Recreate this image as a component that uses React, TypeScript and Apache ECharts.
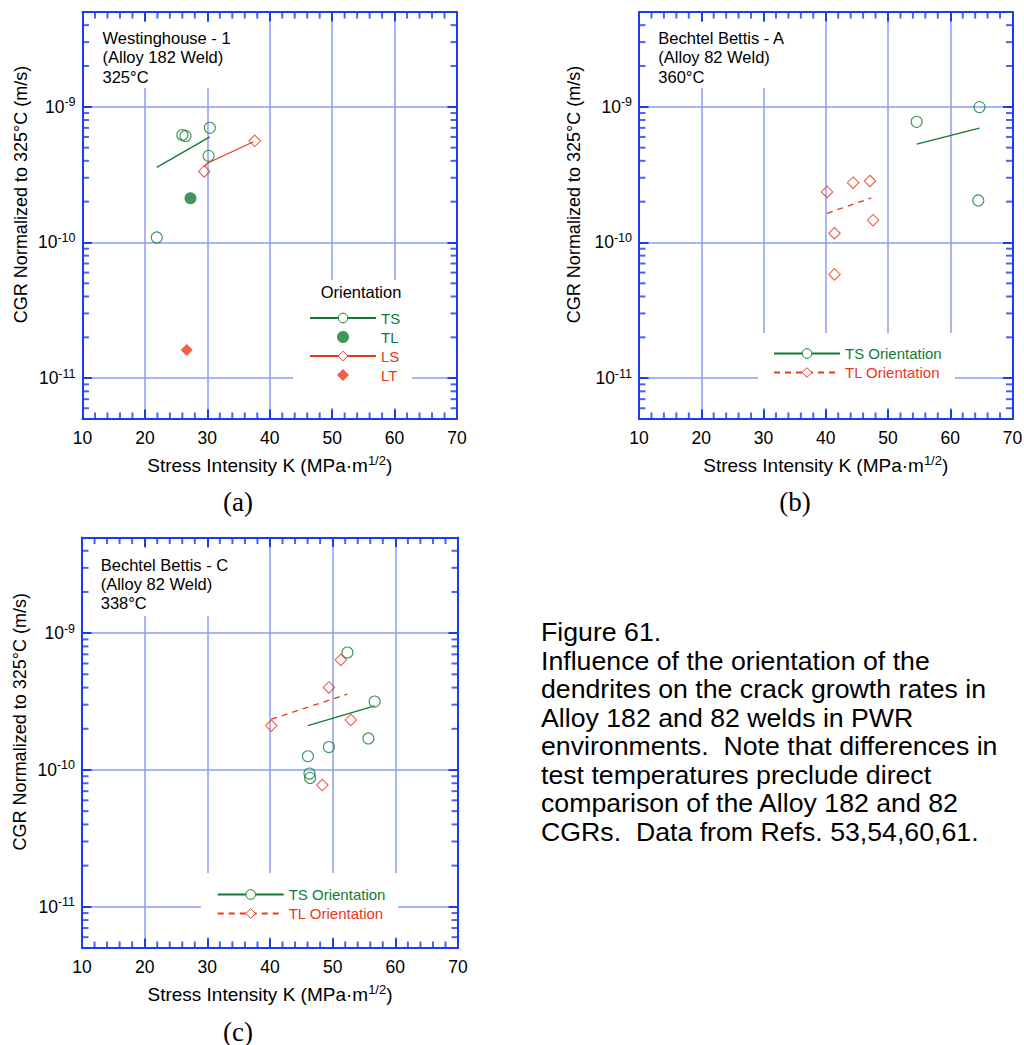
import React, { useEffect, useRef } from 'react';
import * as echarts from 'echarts';

// ---------------- data ----------------
const kMin = 10;
const kMax = 70;
const kInterval = 10;
const kMinorStep = 2;
const cgrMin = 5e-12;
const cgrMax = 5e-9;
const minorMantissas = [2, 3, 4, 5, 6, 7, 8, 9];
const decadeBases = [1e-12, 1e-11, 1e-10, 1e-9];

// (a) Westinghouse - 1, Alloy 182 weld, 325°C
const aTS_K = [26.0, 26.5, 30.4, 30.2, 21.9];
const aTS_CGR = [6.2e-10, 6.1e-10, 7.0e-10, 4.35e-10, 1.09e-10];
const aTSFit_K = [21.9, 30.4];
const aTSFit_CGR = [3.58e-10, 6.0e-10];
const aTL_K = [27.3];
const aTL_CGR = [2.12e-10];
const aLS_K = [29.5, 37.6];
const aLS_CGR = [3.34e-10, 5.62e-10];
const aLSFit_K = [29.5, 30.0, 37.4];
const aLSFit_CGR = [3.62e-10, 3.84e-10, 5.53e-10];
const aLT_K = [26.7];
const aLT_CGR = [1.61e-11];

// (b) Bechtel Bettis - A, Alloy 82 weld, 360°C
const bTS_K = [54.6, 64.7, 64.5];
const bTS_CGR = [7.75e-10, 9.95e-10, 2.04e-10];
const bTSFit_K = [54.6, 64.7];
const bTSFit_CGR = [5.31e-10, 6.97e-10];
const bTL_K = [40.2, 44.4, 47.1, 47.6, 41.4, 41.4];
const bTL_CGR = [2.36e-10, 2.76e-10, 2.84e-10, 1.46e-10, 1.17e-10, 5.82e-11];
const bTLFit_K = [40.2, 47.3];
const bTLFit_CGR = [1.64e-10, 2.13e-10];

// (c) Bechtel Bettis - C, Alloy 82 weld, 338°C
const cTS_K = [52.35, 56.7, 55.7, 49.4, 46.05, 46.3, 46.4];
const cTS_CGR = [7.22e-10, 3.16e-10, 1.7e-10, 1.47e-10, 1.26e-10, 9.42e-11, 8.75e-11];
const cTSFit_K = [46.05, 56.7];
const cTSFit_CGR = [2.11e-10, 2.94e-10];
const cTL_K = [51.3, 49.4, 52.9, 40.2, 48.35];
const cTL_CGR = [6.38e-10, 4.01e-10, 2.32e-10, 2.11e-10, 7.76e-11];
const cTLFit_K = [40.2, 52.35];
const cTLFit_CGR = [2.35e-10, 3.58e-10];

// ---------------- styles ----------------
const GREEN = '#127a34';
const RED = '#ea381b';
const AXIS_BLUE = '#1c3cf2';
const GRID_BLUE = '#8d9df3';
const TEXT = '#000';
const FONT = '"Liberation Sans", Arial, Helvetica, sans-serif';
const SERIF = '"Liberation Serif", "Times New Roman", serif';
const DIAMOND_ICON = 'path://M5,0L10,5L5,10L0,5Z';

const zip = (xs: number[], ys: number[]) => xs.map((x, i) => [x, ys[i]]);

// axis decoration positions (not data)
const cgrMinorTicks: number[] = [];
decadeBases.forEach((d) =>
  minorMantissas.forEach((m) => {
    const v = m * d;
    if (v > cgrMin * 1.0001 && v < cgrMax * 0.9999) cgrMinorTicks.push(v);
  })
);
const kMinorTicks: number[] = [];
for (let k = kMin + kMinorStep; k < kMax; k += kMinorStep) {
  if (k % kInterval !== 0) kMinorTicks.push(k);
}

const panels = [
  { grid: { left: 82.5, top: 12, width: 374.5, height: 407 }, yNameGap: 53 },
  { grid: { left: 639, top: 12, width: 373.5, height: 407 }, yNameGap: 56 },
  { grid: { left: 82, top: 537.5, width: 376, height: 410.5 }, yNameGap: 53 },
];

function buildOption() {
  const grids: any[] = [];
  const xAxes: any[] = [];
  const yAxes: any[] = [];
  const series: any[] = [];

  const axisLine = { show: true, onZero: false, lineStyle: { color: AXIS_BLUE, width: 2 } };
  const axisTick = { show: true, inside: true, length: 9.5, lineStyle: { color: AXIS_BLUE, width: 2 } };

  const tickSeries = (gi: number, data: number[][], size: number[], offset: number[]) => ({
    type: 'scatter',
    name: 'tick',
    xAxisIndex: gi * 2,
    yAxisIndex: gi * 2,
    data,
    symbol: 'rect',
    symbolSize: size,
    symbolOffset: offset,
    symbolKeepAspect: false,
    clip: false,
    silent: true,
    z: 4,
    itemStyle: { color: AXIS_BLUE, borderWidth: 0 },
  });

  panels.forEach((p, gi) => {
    grids.push({ ...p.grid, containLabel: false, outerBoundsMode: 'none' });
    xAxes.push({
      gridIndex: gi,
      type: 'value',
      min: kMin,
      max: kMax,
      interval: kInterval,
      position: 'bottom',
      axisLine,
      axisTick,
      axisLabel: { show: true, margin: 10, fontSize: 17.5, color: TEXT, fontFamily: FONT, showMinLabel: true, showMaxLabel: true },
      splitLine: { show: true, lineStyle: { color: GRID_BLUE, width: 1.5 } },
      name: 'Stress Intensity K (MPa·m{s|1/2})',
      nameLocation: 'middle',
      nameGap: 35,
      nameTextStyle: {
        fontSize: 19,
        color: TEXT,
        fontFamily: FONT,
        rich: { s: { fontSize: 13, color: TEXT, fontFamily: FONT, padding: [0, 0, 10, 0] } },
      },
    });
    xAxes.push({
      gridIndex: gi,
      type: 'value',
      min: kMin,
      max: kMax,
      interval: kInterval,
      position: 'top',
      axisLine,
      axisTick,
      axisLabel: { show: false },
      splitLine: { show: false },
    });
    yAxes.push({
      gridIndex: gi,
      type: 'log',
      logBase: 10,
      min: cgrMin,
      max: cgrMax,
      position: 'left',
      axisLine,
      axisTick,
      axisLabel: {
        show: true,
        margin: 7,
        color: TEXT,
        fontFamily: FONT,
        fontSize: 17.5,
        formatter: (v: number) => {
          const e = Math.log10(v);
          const r = Math.round(e);
          if (Math.abs(e - r) > 1e-6) return '';
          return `{b|10}{s|${r}}`;
        },
        rich: {
          b: { fontSize: 17.5, color: TEXT, fontFamily: FONT },
          s: { fontSize: 12.5, color: TEXT, fontFamily: FONT, padding: [0, 0, 9, 0] },
        },
      },
      splitLine: { show: true, lineStyle: { color: GRID_BLUE, width: 1.5 } },
      name: 'CGR Normalized to 325°C (m/s)',
      nameLocation: 'middle',
      nameGap: p.yNameGap,
      nameTextStyle: { fontSize: 18, color: TEXT, fontFamily: FONT, padding: [0, 0, 0, 42] },
    });
    yAxes.push({
      gridIndex: gi,
      type: 'log',
      logBase: 10,
      min: cgrMin,
      max: cgrMax,
      position: 'right',
      axisLine,
      axisTick,
      axisLabel: { show: false },
      splitLine: { show: false },
    });

    // minor frame ticks, placed through the axes' scales
    series.push(tickSeries(gi, cgrMinorTicks.map((v) => [kMin, v]), [6.5, 2], [3.25, 0]));
    series.push(tickSeries(gi, cgrMinorTicks.map((v) => [kMax, v]), [6.5, 2], [-3.25, 0]));
    series.push(tickSeries(gi, kMinorTicks.map((k) => [k, cgrMin]), [2, 6.5], [0, -3.25]));
    series.push(tickSeries(gi, kMinorTicks.map((k) => [k, cgrMax]), [2, 6.5], [0, 3.25]));
  });

  const line = (name: string, gi: number, K: number[], C: number[], color: string, symbol: string, dashed = false) => ({
    type: 'line',
    name,
    xAxisIndex: gi * 2,
    yAxisIndex: gi * 2,
    data: zip(K, C),
    showSymbol: false,
    symbol,
    symbolSize: 10,
    symbolKeepAspect: true,
    silent: true,
    z: 2,
    lineStyle: { color, width: 1.3, type: dashed ? [6, 5] : 'solid' },
    itemStyle: { color },
  });
  const scatter = (name: string, gi: number, K: number[], C: number[], color: string, symbol: string, filled: boolean, size: number) => ({
    type: 'scatter',
    name,
    xAxisIndex: gi * 2,
    yAxisIndex: gi * 2,
    data: zip(K, C),
    symbol,
    symbolSize: size,
    symbolKeepAspect: true,
    silent: true,
    z: 3,
    itemStyle: filled
      ? { color, borderWidth: 0 }
      : { color: 'rgba(255,255,255,0)', borderColor: color, borderWidth: 1.1 },
  });

  // (a)
  series.push(line('TS', 0, aTSFit_K, aTSFit_CGR, GREEN, 'circle'));
  series.push(line('LS', 0, aLSFit_K, aLSFit_CGR, RED, 'diamond'));
  series.push(scatter('TS', 0, aTS_K, aTS_CGR, GREEN, 'circle', false, 11));
  series.push(scatter('TL', 0, aTL_K, aTL_CGR, GREEN, 'circle', true, 12));
  series.push(scatter('LS', 0, aLS_K, aLS_CGR, RED, 'diamond', false, 11.5));
  series.push(scatter('LT', 0, aLT_K, aLT_CGR, RED, 'diamond', true, 12));
  // (b)
  series.push(line('TS Orientation', 1, bTSFit_K, bTSFit_CGR, GREEN, 'circle'));
  series.push(line('TL Orientation', 1, bTLFit_K, bTLFit_CGR, RED, 'diamond', true));
  series.push(scatter('TS Orientation', 1, bTS_K, bTS_CGR, GREEN, 'circle', false, 11));
  series.push(scatter('TL Orientation', 1, bTL_K, bTL_CGR, RED, 'diamond', false, 11.5));
  // (c)
  series.push(line('TS Orientation', 2, cTSFit_K, cTSFit_CGR, GREEN, 'circle'));
  series.push(line('TL Orientation', 2, cTLFit_K, cTLFit_CGR, RED, 'diamond', true));
  series.push(scatter('TS Orientation', 2, cTS_K, cTS_CGR, GREEN, 'circle', false, 11));
  series.push(scatter('TL Orientation', 2, cTL_K, cTL_CGR, RED, 'diamond', false, 11.5));

  const openItem = (color: string) => ({ color: '#fff', borderColor: color, borderWidth: 1 });
  const legendBase = {
    orient: 'vertical',
    itemWidth: 66,
    itemHeight: 12,
    itemGap: 4,
    padding: 0,
    selectedMode: false,
    symbolKeepAspect: true,
    textStyle: { fontSize: 15, fontFamily: FONT },
  };
  const orientationLegendData = [
    { name: 'TS Orientation', itemStyle: openItem(GREEN), textStyle: { color: GREEN } },
    { name: 'TL Orientation', itemStyle: openItem(RED), textStyle: { color: RED } },
  ];

  const legend = [
    {
      ...legendBase,
      left: 309,
      top: 310.5,
      data: [
        { name: 'TS', itemStyle: openItem(GREEN), textStyle: { color: GREEN } },
        { name: 'TL', itemStyle: { color: GREEN, borderWidth: 0 }, textStyle: { color: GREEN } },
        { name: 'LS', itemStyle: openItem(RED), textStyle: { color: RED } },
        { name: 'LT', icon: DIAMOND_ICON, symbolKeepAspect: true, itemStyle: { color: RED, borderWidth: 0 }, textStyle: { color: RED } },
      ],
    },
    { ...legendBase, left: 773, top: 346, data: orientationLegendData },
    { ...legendBase, left: 216.7, top: 887, data: orientationLegendData },
  ];

  const box = (x: number, y: number, w: number, h: number) => ({
    type: 'rect',
    z: 1,
    silent: true,
    shape: { x, y, width: w, height: h },
    style: { fill: '#fff' },
  });
  const text = (t: string, x: number, y: number, size: number, color = TEXT, family = FONT, lineHeight?: number, align = 'left') => ({
    type: 'text',
    z: 10,
    silent: true,
    x,
    y,
    style: { text: t, fill: color, fontSize: size, fontFamily: family, lineHeight: lineHeight || size * 1.2, align, textAlign: align, verticalAlign: 'top', textVerticalAlign: 'top' },
  });

  const graphic = [
    box(92, 22, 152, 66),
    box(649, 22, 152, 66),
    box(92, 548, 152, 68),
    box(293, 280, 119, 128),
    box(758, 333, 197, 75),
    box(201, 873, 197, 64),
    text('Westinghouse - 1\n(Alloy 182 Weld)\n325°C', 102.5, 28.3, 16.5, TEXT, FONT, 19.3),
    text('Bechtel Bettis - A\n(Alloy 82 Weld)\n360°C', 658.3, 28.3, 16.5, TEXT, FONT, 19.3),
    text('Bechtel Bettis - C\n(Alloy 82 Weld)\n338°C', 100.7, 554.9, 16.5, TEXT, FONT, 19.3),
    text('Orientation', 361, 282, 16.5, TEXT, FONT, 20, 'center'),
    text('(a)', 238, 489, 27, TEXT, SERIF, 26, 'center'),
    text('(b)', 795, 489, 27, TEXT, SERIF, 26, 'center'),
    text('(c)', 238, 1018.5, 27, TEXT, SERIF, 26, 'center'),
    text(
      'Figure 61.\nInfluence of the orientation of the\ndendrites on the crack growth rates in\nAlloy 182 and 82 welds in PWR\nenvironments.  Note that differences in\ntest temperatures preclude direct\ncomparison of the Alloy 182 and 82\nCGRs.  Data from Refs. 53,54,60,61.',
      541, 618, 26.7, TEXT, FONT, 28.5
    ),
  ];

  return {
    animation: false,
    backgroundColor: '#fff',
    textStyle: { fontFamily: FONT },
    grid: grids,
    xAxis: xAxes,
    yAxis: yAxes,
    legend,
    series,
    graphic,
  };
}

export default function App() {
  const ref = useRef<HTMLDivElement>(null);
  useEffect(() => {
    document.body.style.margin = '0';
    const chart = echarts.init(ref.current as HTMLDivElement, null, { renderer: 'svg' });
    chart.setOption(buildOption() as any);
    return () => chart.dispose();
  }, []);
  return <div ref={ref} style={{ width: 1024, height: 1045 }} />;
}
